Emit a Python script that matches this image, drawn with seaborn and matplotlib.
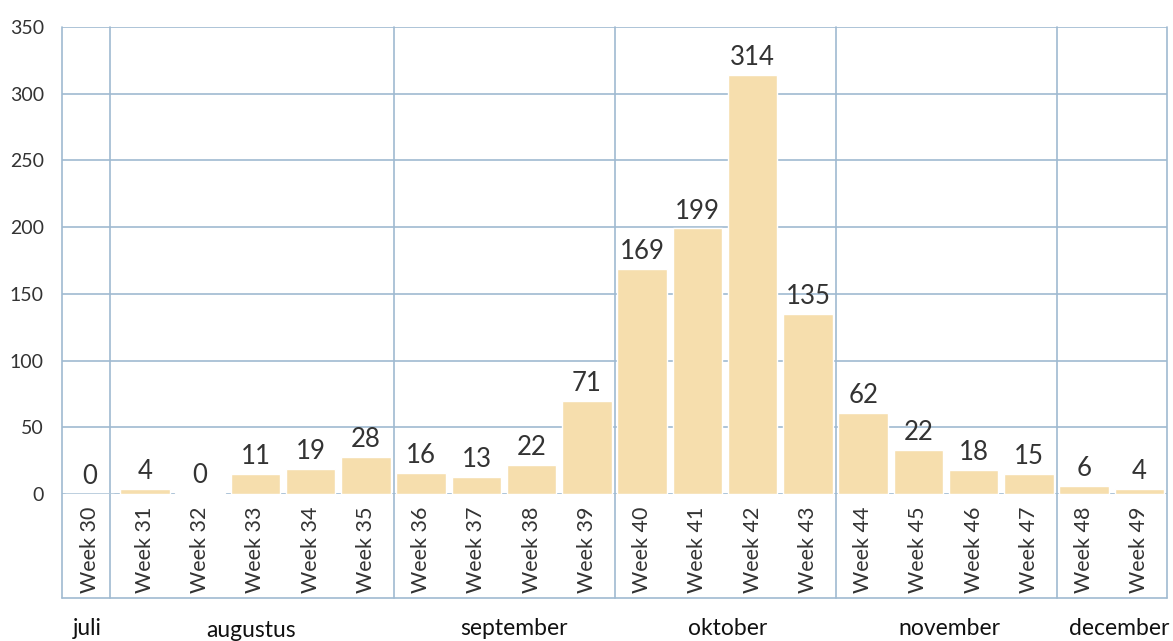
import numpy as np
import pandas as pd
import matplotlib
matplotlib.use('Agg')
import matplotlib.pyplot as plt
import matplotlib.transforms as mtransforms
import seaborn as sns

weeks = ['Week 30', 'Week 31', 'Week 32', 'Week 33', 'Week 34', 'Week 35', 'Week 36',
         'Week 37', 'Week 38', 'Week 39', 'Week 40', 'Week 41', 'Week 42', 'Week 43',
         'Week 44', 'Week 45', 'Week 46', 'Week 47', 'Week 48', 'Week 49']
# bar heights as drawn in the picture
heights = [0, 4, 1, 15, 19, 28, 16, 13, 22, 70, 169, 199, 314, 135, 61, 33, 18, 15, 6, 4]
# value labels as printed above the bars
labels = [0, 4, 0, 11, 19, 28, 16, 13, 22, 71, 169, 199, 314, 135, 62, 22, 18, 15, 6, 4]

months = ['juli', 'augustus', 'september', 'oktober', 'november', 'december']
month_first = [0, 1, 6, 10, 14, 18]
month_last = [0, 5, 9, 13, 17, 19]

df = pd.DataFrame({'week': weeks, 'count': heights})

sns.set_style('white')
plt.rcParams['font.family'] = ['Lato', 'DejaVu Sans']

text_col = '#333333'
line_col = '#9fbad1'
bar_col = '#f6dead'

fig = plt.figure(figsize=(11.73, 6.41), dpi=100)
ax = fig.add_axes([62 / 1173, 1 - 494 / 641, 1105 / 1173, 467 / 641])

sns.barplot(data=df, x='week', y='count', color=bar_col, width=0.9,
            saturation=1, ax=ax, zorder=3)

ax.set_xlim(-0.5, 19.5)
ax.set_ylim(0, 350)
ax.set_yticks(np.arange(0, 351, 50))
ax.tick_params(axis='y', length=0, pad=13, labelsize=14, labelcolor=text_col)
ax.tick_params(axis='x', length=0, pad=9, labelsize=15.5, labelcolor=text_col,
               labelrotation=90)
ax.set_xlabel('')
ax.set_ylabel('')
for s in ax.spines.values():
    s.set_visible(False)

ax.grid(False)
for yv in np.arange(0, 351, 50):
    ax.axhline(yv, color=line_col, lw=1.2, zorder=1)

# value labels
for i, (h, lab) in enumerate(zip(heights, labels)):
    ax.annotate(str(lab), (i, h), xytext=(0, 7), textcoords='offset points',
                ha='center', va='baseline', fontsize=18.5, color=text_col)

# category table below the plot
trans = mtransforms.blended_transform_factory(ax.transData, ax.transAxes)
bottom = -(598 - 494) / 467
dividers = [-0.5, 0.37, 5.5, 9.5, 13.5, 17.5, 19.5]
for xv in dividers:
    ax.plot([xv, xv], [bottom, 1], transform=trans, color=line_col, lw=1.2,
            clip_on=False, zorder=2)
ax.plot([-0.5, 19.5], [bottom, bottom], transform=trans, color=line_col,
        lw=1.2, clip_on=False)

month_y = [-0.287, -0.293, -0.287, -0.287, -0.287, -0.287]
month_dx = [-0.05, -0.08, 0.18, 0.05, 0.07, 0.13]
for name, a, b, my, dx in zip(months, month_first, month_last, month_y, month_dx):
    ax.text((a + b) / 2 + dx, my, name, transform=trans, ha='center', va='center',
            fontsize=16.5, color='#111111')

plt.savefig('out.png', dpi=100)
